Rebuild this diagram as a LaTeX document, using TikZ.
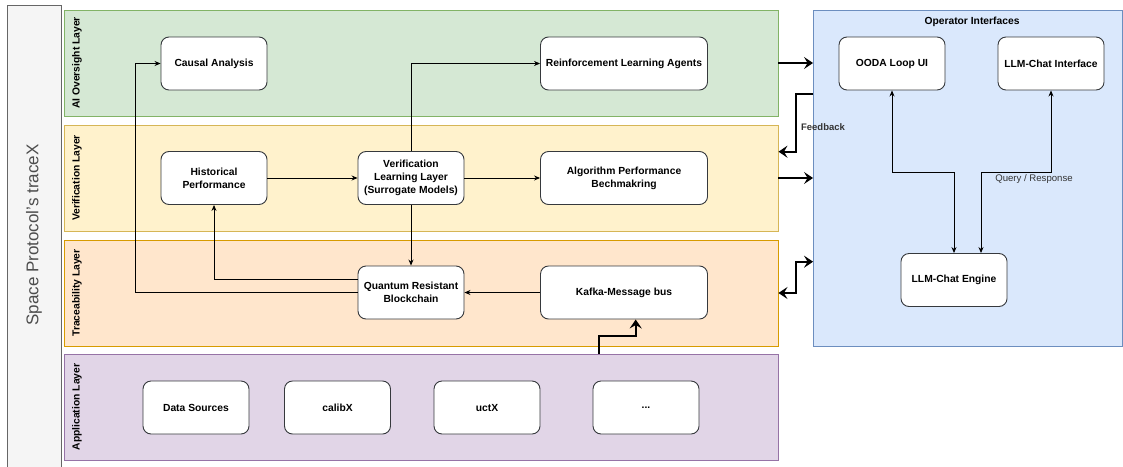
\documentclass[tikz,border=0pt]{standalone}
\usepackage{fontspec}
\setmainfont{Liberation Sans}
\usetikzlibrary{arrows.meta}

\definecolor{aifill}{HTML}{D5E8D4}
\definecolor{ailine}{HTML}{82B366}
\definecolor{verfill}{HTML}{FFF2CC}
\definecolor{verline}{HTML}{D6B656}
\definecolor{trfill}{HTML}{FFE6CC}
\definecolor{trline}{HTML}{D79B00}
\definecolor{appfill}{HTML}{E1D5E7}
\definecolor{appline}{HTML}{9673A6}
\definecolor{opfill}{HTML}{DAE8FC}
\definecolor{opline}{HTML}{6C8EBF}
\definecolor{boxline}{HTML}{36393D}
\definecolor{titlefill}{HTML}{F5F5F5}
\definecolor{titleline}{HTML}{666666}
\definecolor{titletext}{HTML}{4D4D4D}

\begin{document}
\begin{tikzpicture}[x=1pt,y=-1pt,
  box/.style={draw=boxline,fill=white,rounded corners=8pt,line width=0.9pt,
    minimum width=106pt,minimum height=53pt,align=center,inner sep=2pt,
    font=\bfseries\fontsize{10.3}{13}\selectfont},
  widebox/.style={box,minimum width=167pt},
  layer/.style={line width=0.9pt,minimum width=714pt,minimum height=106pt},
  layerlabel/.style={rotate=90,font=\bfseries\fontsize{10.3}{12}\selectfont},
  thinarrow/.style={line width=0.8pt,-{Stealth[length=6pt,width=5pt]}},
  bigarrow/.style={line width=2.2pt,-{Stealth[length=9pt,width=12pt,inset=3.5pt]}}
]
\useasboundingbox (0,0) rectangle (1123,466);

% title strip
\draw[fill=titlefill,draw=titleline,line width=0.9pt] (7,5) rectangle (61,470);
\node[rotate=90,text=titletext,font=\fontsize{17}{20}\selectfont] (title) at (34,235) {Space Protocol's traceX};

% layers
\node[layer,fill=aifill,draw=ailine] (ai) at (421,63) {};
\node[layer,fill=verfill,draw=verline] (ver) at (421,178) {};
\node[layer,fill=trfill,draw=trline] (tr) at (421,293) {};
\node[layer,fill=appfill,draw=appline] (app) at (421,407) {};

\node[layerlabel] (ailabel) at (77,63) {AI Oversight Layer};
\node[layerlabel] (verlabel) at (77,178) {Verification Layer};
\node[layerlabel] (trlabel) at (77,293) {Traceability Layer};
\node[layerlabel] (applabel) at (77,407) {Application Layer};

% operator side
\node[fill=opfill,draw=opline,line width=0.9pt,minimum width=309pt,minimum height=336pt] (ops) at (968,178) {};
\node[font=\bfseries\fontsize{10.3}{12}\selectfont] (opstitle) at (972,22) {Operator Interfaces};

\node[box] (ooda) at (892,63.5) {OODA Loop UI};
\node[box] (chat) at (1051,63.5) {LLM-Chat Interface};
\node[box] (engine) at (954,280) {LLM-Chat Engine};

% boxes
\node[box] (causal) at (214,63.5) {Causal Analysis};
\node[widebox] (rla) at (624,63.5) {Reinforcement Learning Agents};

\node[box] (hist) at (214,178) {Historical\\Performance};
\node[box] (vll) at (411,178) {Verification\\Learning Layer\\(Surrogate Models)};
\node[widebox] (algo) at (624,178) {Algorithm Performance\\Bechmakring};

\node[box] (qrb) at (411,292.5) {Quantum Resistant\\Blockchain};
\node[widebox] (kafka) at (624,292.5) {Kafka-Message bus};

\node[box] (data) at (196,407.5) {Data Sources};
\node[box] (calib) at (337.5,407.5) {calibX};
\node[box] (uct) at (487,407.5) {uctX};
\node[box] (more) at (646,407.5) {...};

% inner links
\draw[thinarrow] (hist) -- (vll);
\draw[thinarrow] (vll) -- (algo);
\draw[thinarrow] (vll.north) |- (rla.west);
\draw[thinarrow] (vll) -- (qrb);
\draw[thinarrow] (kafka) -- (qrb);
\draw[thinarrow] ([yshift=13pt]qrb.west) -| (hist.south);
\coordinate (loop) at (135,292.5);
\draw[thinarrow] (qrb.west) -- (loop) |- (causal.west);

\draw[bigarrow] ([xshift=178pt]app.north) -- ++(0,-17.5) -| ([xshift=11.7pt]kafka.south);

% to the operator side
\draw[bigarrow] (ai.east) -- (ai.east -| ops.west);
\draw[bigarrow] (ver.east) -- (ver.east -| ops.west);
\draw[bigarrow] ([yshift=83.7pt]ops.west) -- ++(-17.3,0) |- ([yshift=26.3pt]ver.east);
\node[font=\bfseries\fontsize{9.5}{11}\selectfont,text=black!80] (fb) at (823,127) {Feedback};
\draw[bigarrow,{Stealth[length=9pt,width=12pt,inset=3.5pt]}-{Stealth[length=9pt,width=12pt,inset=3.5pt]}] (tr.east) -- ++(17.7,0) |- ([yshift=-83.7pt]ops.west);

\draw[thinarrow,{Stealth[length=6pt,width=5pt]}-{Stealth[length=6pt,width=5pt]}] (ooda.south) -- ++(0,81.7) -| (engine.north);
\draw[thinarrow,{Stealth[length=6pt,width=5pt]}-{Stealth[length=6pt,width=5pt]}] (chat.south) -- ++(0,81.7) -| ([xshift=27pt]engine.north);
\node[font=\fontsize{9.6}{11}\selectfont,text=black!80] (qr) at (1034,179) {Query / Response};

\end{tikzpicture}
\end{document}
